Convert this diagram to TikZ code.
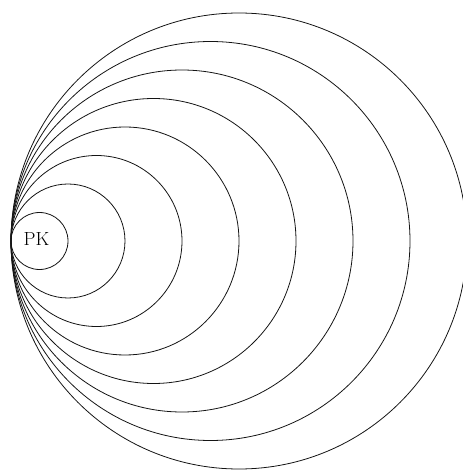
\documentclass[tikz,border=0pt]{standalone}
\usepackage{tikz}
\usepackage{xcolor}
\usetikzlibrary{calc,positioning}
\definecolor{ringInk}{RGB}{20,20,20}

\begin{document}
\begin{tikzpicture}[x=1pt,y=1pt,ring/.style={draw=ringInk,line width=.8pt}]
\useasboundingbox (0,0) rectangle (463,472);
\coordinate (touch) at (11,231);
\foreach \k in {1,...,8}{
  \draw[ring] ($(touch)+(28.5*\k,0)$) circle[radius=28.5*\k];
}
\node[font=\fontsize{19}{20}\selectfont,inner sep=0pt] (pk) at (36.5,233) {PK};
\end{tikzpicture}
\end{document}
